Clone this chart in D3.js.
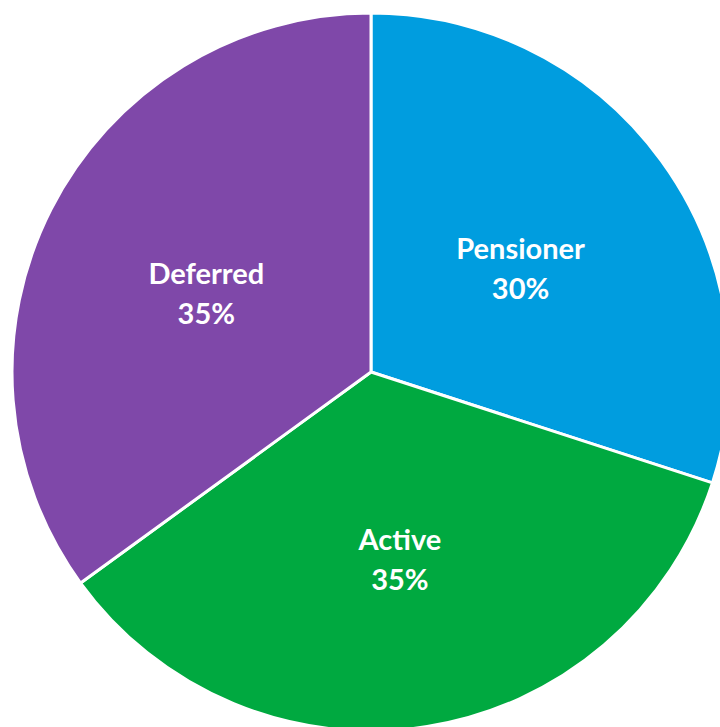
<!DOCTYPE html>
<meta charset="utf-8">
<script src="https://d3js.org/d3.v7.min.js"></script>
<style>
  body { margin: 0; background: #fff; }
</style>
<div id="my_dataviz"></div>
<script>

// data
var categories = ["Pensioner", "Active", "Deferred"]
var shares = [30, 35, 35]
var colors = ["#009ddf", "#00a940", "#7f48a9"]

var width = 720,
  height = 727,
  cx = 371,
  cy = 372,
  radius = 359;

var svg = d3.select("#my_dataviz")
  .append("svg")
    .attr("width", width)
    .attr("height", height)
  .append("g")
    .attr("transform", "translate(" + cx + "," + cy + ")");

var data = categories.map(function(c, i) { return {name: c, value: shares[i], color: colors[i]} })

var pie = d3.pie()
  .sort(null)
  .value(function(d) { return d.value });

var arc = d3.arc()
  .innerRadius(0)
  .outerRadius(radius);

var labelArc = d3.arc()
  .innerRadius(radius * 0.515)
  .outerRadius(radius * 0.515);

var slices = svg.selectAll("g.slice")
  .data(pie(data))
  .enter()
  .append("g")
    .attr("class", "slice");

slices.append("path")
  .attr("d", arc)
  .attr("fill", function(d) { return d.data.color })
  .attr("stroke", "#fff")
  .attr("stroke-width", 3)
  .attr("stroke-linejoin", "round");

// labels: name + percent
var labels = slices.append("text")
  .attr("transform", function(d) { return "translate(" + labelArc.centroid(d) + ")" })
  .attr("text-anchor", "middle")
  .attr("fill", "#fff")
  .style("font-family", "Lato, 'Open Sans', sans-serif")
  .style("font-weight", "bold")
  .style("font-size", "29px");

labels.append("tspan")
  .attr("x", 0)
  .attr("dy", "-0.15em")
  .text(function(d) { return d.data.name });

labels.append("tspan")
  .attr("x", 0)
  .attr("dy", "1.38em")
  .text(function(d) { return d.data.value + "%" });

</script>
